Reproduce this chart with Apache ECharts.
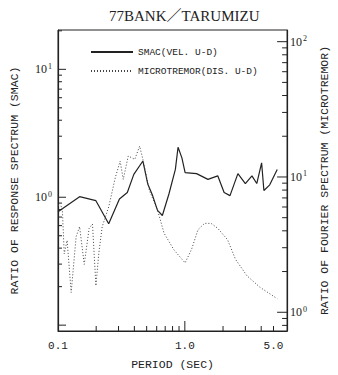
<!DOCTYPE html>
<html><head><meta charset="utf-8">
<script src="https://cdn.jsdelivr.net/npm/echarts@6/dist/echarts.min.js"></script>
<style>html,body{margin:0;padding:0;background:#fff}#c{width:338px;height:375px}#d{position:absolute;left:60px;top:250px;font:9px monospace;color:red;white-space:pre}</style>
</head><body><div id="c"></div><div id="d"></div>
<script>
// Period (sec) and values
const smacPeriod = [0.1, 0.148, 0.199, 0.251, 0.305, 0.352, 0.396, 0.467, 0.51, 0.557, 0.609, 0.665, 0.749, 0.842, 0.884, 0.948, 1.005, 1.237, 1.521, 1.817, 2.04, 2.27, 2.62, 3.0, 3.38, 3.69, 4.03, 4.2, 4.67, 5.35];
const smacRatio  = [0.77, 1.01, 0.94, 0.62, 0.97, 1.09, 1.51, 1.92, 1.27, 1.03, 0.79, 0.72, 1.06, 1.65, 2.46, 2.03, 1.56, 1.53, 1.38, 1.47, 1.09, 1.03, 1.53, 1.28, 1.47, 1.28, 1.86, 1.13, 1.25, 1.65];
const microPeriod = [0.1, 0.108, 0.112, 0.118, 0.127, 0.139, 0.148, 0.161, 0.176, 0.187, 0.199, 0.21, 0.223, 0.251, 0.283, 0.309, 0.327, 0.358, 0.403, 0.44, 0.467, 0.526, 0.609, 0.686, 0.819, 0.948, 1.005, 1.13, 1.27, 1.43, 1.61, 1.82, 2.17, 2.51, 3.09, 3.91, 5.35];
const microRatio  = [6.2, 6.0, 2.7, 3.4, 1.4, 3.63, 4.29, 2.26, 4.17, 4.49, 1.57, 2.75, 4.29, 6.0, 9.9, 13.1, 9.6, 14.3, 13.5, 16.9, 13.5, 7.9, 5.7, 3.84, 2.9, 2.47, 2.32, 2.92, 4.08, 4.54, 4.54, 4.17, 3.44, 2.46, 1.86, 1.53, 1.26];
const xLabels = [0.1, 1, 5];
const xMajorTicks = [1];
const xMinorTicks = [0.2, 0.3, 0.4, 0.5, 0.6, 0.7, 0.8, 0.9, 2, 3, 4, 5];
const leftLabels = [1, 10];
const leftMajorTicks = [0.1, 1, 10];
const leftMinorTicks = [0.2, 0.3, 0.4, 0.5, 0.6, 0.7, 0.8, 0.9, 2, 3, 4, 5, 6, 7, 8, 9, 20];
const rightLabels = [1, 10, 100];
const rightMajorTicks = [1, 10, 100];
const rightMinorTicks = [0.8, 0.9, 2, 3, 4, 5, 6, 7, 8, 9, 20, 30, 40, 50, 60, 70, 80, 90];

const INK = '#222';
const mono = '"Liberation Mono", "DejaVu Sans Mono", monospace';
const serif = '"Liberation Serif", "DejaVu Serif", serif';
const pow10 = v => '10{s|' + Math.round(Math.log10(v)) + '}';
const rich = { s: { fontSize: 8, verticalAlign: 'top', padding: [0, 0, 6, 1], fontFamily: serif, color: INK } };

const chart = echarts.init(document.getElementById('c'), null, { renderer: 'svg' });
const X = { min: 0.1, max: 6.4 };
const YL = { min: 0.09, max: 20.3 };
const YR = { min: 0.727, max: 122 };
let calls = 0;

// tick marks placed through the axes' own scales; side: 'bottom' | 'left' | 'right'
function tickSeries(values, yAxisIndex, side, len) {
  return {
    type: 'custom', xAxisIndex: 0, yAxisIndex: yAxisIndex, clip: false, z: 5, silent: true,
    encode: { x: 0, y: 1 },
    data: values.map(v => side === 'bottom' ? [v, 1] : [1, v]),
    renderItem: (params, api) => {
      calls++;
      const p = api.coord([api.value(0), api.value(1)]);
      const cs = params.coordSys;
      let x1, y1, x2, y2;
      if (side === 'bottom') { x1 = x2 = p[0]; y1 = cs.y + cs.height; y2 = y1 - len; }
      else if (side === 'left') { y1 = y2 = p[1]; x1 = cs.x; x2 = x1 + len; }
      else { y1 = y2 = p[1]; x1 = cs.x + cs.width; x2 = x1 - len; }
      return { type: 'line', shape: { x1, y1, x2, y2 }, style: { stroke: INK, lineWidth: 1 } };
    }
  };
}

chart.setOption({
  animation: false,
  title: { text: '77BANK／TARUMIZU', left: 104, top: 3,
    textStyle: { fontFamily: serif + ', "Noto Sans CJK JP"', fontSize: 15, fontWeight: 'normal', color: INK } },
  legend: { orient: 'vertical', left: 85, top: 42, itemWidth: 42, itemHeight: 10, itemGap: 9,
    itemStyle: { opacity: 0 },
    textStyle: { fontFamily: mono, fontSize: 9.5, color: INK },
    data: ['SMAC(VEL. U-D)', 'MICROTREMOR(DIS. U-D)'] },
  grid: { left: 53, right: 50, top: 30, bottom: 39, show: true, borderColor: INK, borderWidth: 1, backgroundColor: 'transparent' },
  xAxis: [
    { type: 'log', logBase: 10, min: X.min, max: X.max, position: 'bottom',
      name: 'PERIOD (SEC)', nameLocation: 'middle', nameGap: 27,
      nameTextStyle: { fontFamily: mono, fontSize: 11.5, color: INK },
      axisLine: { show: true, lineStyle: { color: INK, width: 1 } },
      axisTick: { show: false },
      axisLabel: { customValues: xLabels, formatter: v => Number(v).toFixed(1), margin: 9,
        fontFamily: mono, fontSize: 11, color: INK },
      splitLine: { show: false } }
  ],
  yAxis: [
    { type: 'log', logBase: 10, min: YL.min, max: YL.max, position: 'left',
      name: 'RATIO OF RESPONSE SPECTRUM (SMAC)', nameLocation: 'middle', nameRotate: 90, nameGap: 38,
      nameTextStyle: { fontFamily: mono, fontSize: 11.5, color: INK },
      axisLine: { show: true, lineStyle: { color: INK, width: 1.2 } },
      axisTick: { show: false },
      axisLabel: { customValues: leftLabels, formatter: pow10, rich: rich, margin: 6,
        fontFamily: serif, fontSize: 12, color: INK },
      splitLine: { show: false } },
    { type: 'log', logBase: 10, min: YR.min, max: YR.max, position: 'right',
      name: 'RATIO OF FOURIER SPECTRUM (MICROTREMOR)', nameLocation: 'middle', nameRotate: 90, nameGap: 21,
      nameTextStyle: { fontFamily: mono, fontSize: 11.5, color: INK },
      axisLine: { show: true, lineStyle: { color: INK, width: 1.2 } },
      axisTick: { show: false },
      axisLabel: { customValues: rightLabels, formatter: pow10, rich: rich, margin: 3,
        fontFamily: serif, fontSize: 12, color: INK },
      splitLine: { show: false } }
  ],
  series: [
    { name: 'SMAC(VEL. U-D)', type: 'line', xAxisIndex: 0, yAxisIndex: 0, symbol: 'none',
      lineStyle: { color: INK, width: 1.2, type: 'solid' }, itemStyle: { color: INK },
      data: smacPeriod.map((p, i) => [p, smacRatio[i]]) },
    { name: 'MICROTREMOR(DIS. U-D)', type: 'line', xAxisIndex: 0, yAxisIndex: 1, symbol: 'none',
      lineStyle: { color: '#444', width: 1, type: [1, 2] }, itemStyle: { color: '#444' },
      data: microPeriod.map((p, i) => [p, microRatio[i]]) },
    tickSeries(xMajorTicks, 0, 'bottom', 10),
    tickSeries(xMinorTicks, 0, 'bottom', 5),
    tickSeries(leftMajorTicks, 0, 'left', 8),
    tickSeries(leftMinorTicks, 0, 'left', 4),
    tickSeries(rightMajorTicks, 1, 'right', 10),
    tickSeries(rightMinorTicks, 1, 'right', 5)
  ]
});
if (calls === 0) document.getElementById('d').textContent = 'NOCALLS';
</script></body></html>
